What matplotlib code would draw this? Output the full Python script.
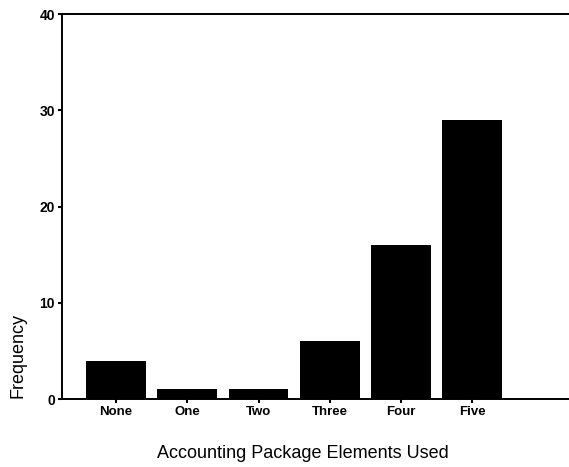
import matplotlib
matplotlib.use('Agg')
import matplotlib.pyplot as plt

plt.rcParams['font.family'] = ['Liberation Sans', 'DejaVu Sans']

# data
categories = ['None', 'One', 'Two', 'Three', 'Four', 'Five']
frequency = [4, 1, 1, 6, 16, 29]
y_ticks = [0, 10, 20, 30, 40]

fig = plt.figure(figsize=(5.69, 4.67), dpi=100)
ax = fig.add_axes([0.109, 0.1456, 0.891, 0.8244])

x = range(len(categories))
ax.bar(x, frequency, width=0.84, color='black')

ax.set_xlim(-0.76, 6.36)
ax.set_ylim(0, 40)
ax.set_yticks(y_ticks)
ax.set_yticklabels([str(t) for t in y_ticks], fontsize=10, fontweight='bold')
ax.set_xticks(list(x))
ax.set_xticklabels(categories, fontsize=9.5, fontweight='bold')

for s in ['left', 'top', 'bottom']:
    ax.spines[s].set_linewidth(1.4)
ax.spines['right'].set_visible(False)
ax.tick_params(axis='both', length=3, width=1.5, direction='out', pad=2)

ax.set_ylabel('Frequency', fontsize=13)
ax.yaxis.set_label_coords(-0.071, 0.114)
ax.set_xlabel('Accounting Package Elements Used', fontsize=13)
ax.xaxis.set_label_coords(0.475, -0.119)

plt.savefig('out.png', dpi=100)
